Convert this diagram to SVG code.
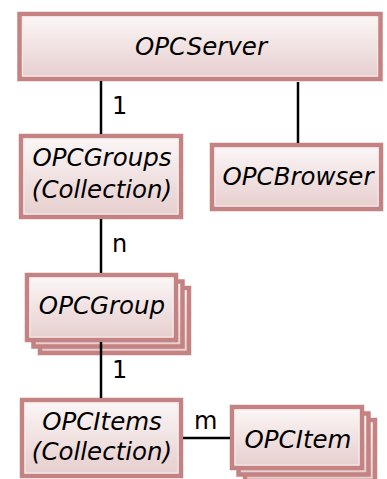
<svg xmlns="http://www.w3.org/2000/svg" width="387" height="479" viewBox="0 0 387 479">
<defs>
<linearGradient id="g" x1="0" y1="0" x2="0" y2="1">
<stop offset="0" stop-color="#fcf7f7"/>
<stop offset="1" stop-color="#e6cdcd"/>
</linearGradient>
</defs>
<style>
.box{fill:url(#g);stroke:#c48282;stroke-width:4.5}
.hl{fill:none;stroke:#f6ecec;stroke-width:1}
.t{font-family:"DejaVu Sans",sans-serif;font-style:italic;font-size:24.5px;fill:#000;text-anchor:middle}
.lbl{font-family:"DejaVu Sans",sans-serif;font-size:24px;fill:#000}
.c{stroke:#000;stroke-width:2.5;fill:none}
</style>
<rect width="387" height="479" fill="#fff"/>
<g id="OPCServer">
<rect class="box" x="19.5" y="14" width="361" height="65"/>
<rect class="hl" x="22.5" y="17" width="355" height="59"/>
<text class="t" x="201" y="55">OPCServer</text>
</g>
<g id="OPCGroups">
<rect class="box" x="21" y="136" width="160" height="81"/>
<rect class="hl" x="24" y="139" width="154" height="75"/>
<text class="t" x="102" y="166">OPCGroups</text>
<text class="t" x="102" y="198">(Collection)</text>
</g>
<g id="OPCBrowser">
<rect class="box" x="212" y="145" width="169" height="64"/>
<rect class="hl" x="215" y="148" width="163" height="58"/>
<text class="t" x="298" y="185">OPCBrowser</text>
</g>
<g id="OPCGroup">
<rect class="box" x="40" y="288" width="149" height="65"/>
<rect class="box" x="33.5" y="281.5" width="149" height="65"/>
<rect class="box" x="27" y="275" width="149" height="65"/>
<rect class="hl" x="30" y="278" width="143" height="59"/>
<text class="t" x="102" y="314">OPCGroup</text>
</g>
<g id="OPCItems">
<rect class="box" x="22" y="400" width="159" height="76"/>
<rect class="hl" x="25" y="403" width="153" height="70"/>
<text class="t" x="102" y="430">OPCItems</text>
<text class="t" x="102" y="460">(Collection)</text>
</g>
<g id="OPCItem">
<rect class="box" x="245" y="420" width="130" height="61"/>
<rect class="box" x="238.5" y="413.5" width="130" height="61"/>
<rect class="box" x="232" y="407" width="130" height="61"/>
<rect class="hl" x="235" y="410" width="124" height="55"/>
<text class="t" x="298" y="448">OPCItem</text>
</g>
<g id="connectors">
<line class="c" x1="101" y1="81" x2="101" y2="134"/>
<line class="c" x1="298" y1="82" x2="298" y2="143"/>
<line class="c" x1="101" y1="219" x2="101" y2="273"/>
<line class="c" x1="101" y1="342" x2="101" y2="398"/>
<line class="c" x1="183" y1="438" x2="230" y2="438"/>
<text class="lbl" x="112" y="114">1</text>
<text class="lbl" x="112" y="252">n</text>
<text class="lbl" x="112" y="378">1</text>
<text class="lbl" x="194" y="429">m</text>
</g>
</svg>
